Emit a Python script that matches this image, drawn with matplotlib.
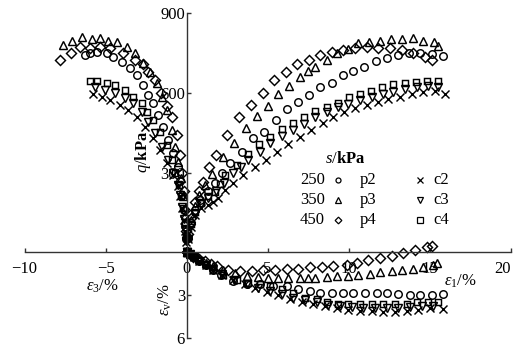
import matplotlib
matplotlib.use("Agg")
import matplotlib.pyplot as plt

plt.rcParams["font.family"] = ["Liberation Serif", "DejaVu Serif"]
plt.rcParams["mathtext.fontset"] = "custom"
plt.rcParams["mathtext.rm"] = "Liberation Serif"
plt.rcParams["mathtext.it"] = "Liberation Serif:italic"
plt.rcParams["mathtext.bf"] = "Liberation Serif:bold"

# ---------------- data ----------------
# q (kPa) against axial strain eps1 (%)
p2_e1 = [0, 0.1, 0.25, 0.5, 0.85, 1.3, 1.75, 2.2, 2.69, 3.41, 4.12, 4.8, 5.51, 6.19, 6.86, 7.56,
         8.24, 8.96, 9.64, 10.3, 10.98, 11.7, 12.36, 13.07, 13.75, 14.41, 15.13, 15.85]
p2_q1 = [0, 55, 110, 160, 195, 230, 262, 298, 335, 378, 429, 451, 498, 538, 566, 592,
         620, 638, 667, 683, 698, 721, 730, 742, 748, 751, 746, 738]
p3_e1 = [0, 0.1, 0.25, 0.5, 0.8, 1.15, 1.59, 2.27, 2.95, 3.65, 4.33, 5.01, 5.67, 6.33, 7.0, 7.47,
         7.93, 8.65, 9.27, 9.99, 10.6, 11.28, 11.94, 12.62, 13.28, 13.96, 14.62, 15.28, 15.54]
p3_q1 = [0, 65, 120, 175, 215, 255, 294, 360, 410, 466, 514, 551, 595, 625, 658, 680,
         698, 723, 751, 763, 786, 792, 796, 801, 801, 805, 796, 792, 776]
p4_e1 = [0, 0.1, 0.25, 0.5, 0.75, 1.04, 1.4, 1.82, 2.52, 3.26, 3.98, 4.70, 5.42, 6.14, 6.84, 7.56,
         8.24, 8.96, 9.68, 10.4, 11.12, 11.84, 12.56, 13.28, 14.0, 14.72, 15.13]
p4_q1 = [0, 70, 130, 190, 230, 266, 320, 366, 441, 508, 553, 598, 648, 679, 708, 723,
         742, 754, 761, 767, 773, 767, 767, 761, 751, 736, 723]
c2_e1 = [0, 0.1, 0.25, 0.5, 0.9, 1.3, 1.65, 1.96, 2.38, 2.9, 3.51, 4.23, 4.91, 5.6, 6.28, 7.0,
         7.67, 8.41, 9.06, 9.72, 10.4, 11.12, 11.8, 12.46, 13.18, 13.9, 14.62, 15.34, 15.96]
c2_q1 = [0, 50, 95, 140, 165, 178, 190, 205, 234, 262, 291, 322, 347, 378, 407, 435,
         460, 485, 510, 529, 541, 554, 566, 577, 585, 595, 604, 608, 595]
c3_e1 = [0, 0.1, 0.25, 0.5, 0.9, 1.35, 1.8, 2.3, 2.89, 3.35, 3.81, 4.54, 5.15, 5.88, 6.59, 7.25,
         7.93, 8.65, 9.37, 9.99, 10.71, 11.43, 12.15, 12.77, 13.49, 14.21, 14.93, 15.54]
c3_q1 = [0, 50, 100, 145, 180, 205, 230, 262, 297, 322, 347, 378, 410, 437, 460, 483,
         508, 529, 545, 558, 573, 585, 595, 604, 613, 623, 625, 620]
c4_e1 = [0, 0.1, 0.25, 0.5, 0.9, 1.35, 1.76, 2.07, 2.38, 3.1, 3.81, 4.49, 5.15, 5.88, 6.56, 7.25,
         7.93, 8.65, 9.33, 10.03, 10.71, 11.39, 12.09, 12.77, 13.49, 14.17, 14.86, 15.54]
c4_q1 = [0, 55, 105, 150, 185, 210, 228, 258, 290, 328, 370, 407, 435, 462, 487, 510,
         532, 545, 560, 583, 595, 608, 620, 633, 638, 642, 645, 645]

# q (kPa) against radial strain eps3 (%)
p2_e3 = [-6.27, -5.96, -5.54, -4.93, -4.52, -4.0, -3.49, -3.07, -2.67, -2.36, -2.05, -1.74,
         -1.43, -1.12, -0.81, -0.55, -0.38, -0.25, -0.15, -0.08, -0.03, 0]
p2_q3 = [742, 748, 754, 748, 736, 717, 692, 667, 629, 592, 560, 516,
         472, 422, 372, 320, 270, 215, 160, 105, 50, 0]
p3_e3 = [-7.6, -7.09, -6.47, -5.85, -5.34, -4.83, -4.31, -3.69, -3.18, -2.67, -2.25, -1.84,
         -1.5, -1.22, -0.91, -0.71, -0.5, -0.35, -0.22, -0.12, -0.05, 0]
p3_q3 = [780, 796, 808, 801, 805, 796, 792, 773, 748, 711, 679, 636,
         585, 535, 460, 397, 340, 280, 210, 140, 70, 0]
p4_e3 = [-7.81, -7.15, -6.57, -5.96, -5.34, -4.72, -3.9, -3.18, -2.67, -2.36, -1.94, -1.58,
         -1.22, -0.91, -0.6, -0.4, -0.28, -0.18, -0.1, -0.04, 0]
p4_q3 = [723, 748, 773, 770, 773, 767, 751, 723, 708, 679, 648, 600,
         550, 508, 441, 366, 300, 230, 160, 80, 0]
c2_e3 = [-5.75, -5.24, -4.72, -4.1, -3.59, -3.07, -2.56, -2.05, -1.64, -1.22, -0.81, -0.55,
         -0.38, -0.25, -0.15, -0.08, -0.03, 0]
c2_q3 = [595, 585, 573, 554, 535, 510, 472, 429, 385, 335, 291, 250,
         210, 165, 120, 80, 40, 0]
c3_e3 = [-5.65, -5.03, -4.41, -3.8, -3.28, -2.77, -2.36, -1.94, -1.53, -1.12, -0.81, -0.55,
         -0.38, -0.25, -0.15, -0.08, -0.03, 0]
c3_q3 = [623, 610, 598, 579, 560, 529, 491, 447, 397, 347, 297, 255,
         215, 170, 125, 85, 42, 0]
c4_e3 = [-5.96, -5.54, -4.93, -4.41, -3.8, -3.28, -2.77, -2.46, -2.05, -1.64, -1.22, -0.91,
         -0.71, -0.48, -0.32, -0.2, -0.11, -0.04, 0]
c4_q3 = [645, 645, 638, 629, 610, 585, 560, 529, 498, 454, 404, 347,
         297, 255, 210, 165, 115, 60, 0]

# volumetric strain epsv (%, compression positive) against eps1 (%)
p2_ev_e1 = [0, 0.2, 0.45, 0.8, 1.2, 1.65, 2.1, 2.89, 3.72, 4.54, 5.36, 6.19, 6.9, 7.62, 8.24,
            8.96, 9.68, 10.3, 11.02, 11.74, 12.36, 13.07, 13.8, 14.41, 15.13, 15.85]
p2_ev = [0, 0.15, 0.32, 0.6, 0.9, 1.25, 1.6, 2.01, 2.24, 2.24, 2.35, 2.35, 2.58, 2.7, 2.81,
         2.86, 2.86, 2.86, 2.86, 2.86, 2.86, 2.92, 2.99, 2.99, 2.99, 2.92]
p3_ev_e1 = [0, 0.2, 0.45, 0.8, 1.2, 1.65, 2.27, 3.0, 3.72, 4.43, 5.05, 5.67, 6.28, 7.0, 7.47,
            7.93, 8.65, 9.27, 9.99, 10.6, 11.33, 11.94, 12.67, 13.28, 14.0, 14.62, 15.23, 15.44]
p3_ev = [0, 0.12, 0.28, 0.5, 0.75, 0.98, 1.21, 1.44, 1.62, 1.71, 1.78, 1.78, 1.78, 1.78, 1.78,
         1.78, 1.71, 1.67, 1.62, 1.55, 1.49, 1.40, 1.33, 1.26, 1.17, 1.03, 0.87, 0.71]
p4_ev_e1 = [0, 0.2, 0.42, 0.75, 1.14, 1.5, 1.86, 2.58, 3.3, 4.02, 4.74, 5.46, 6.19, 6.9, 7.62,
            8.35, 9.06, 9.89, 10.5, 11.22, 11.94, 12.67, 13.38, 14.1, 14.83, 15.13]
p4_ev = [0, 0.15, 0.35, 0.5, 0.64, 0.8, 0.98, 1.21, 1.33, 1.33, 1.21, 1.21, 1.17, 1.17, 1.05,
         1.05, 0.94, 0.87, 0.76, 0.53, 0.41, 0.25, 0.07, -0.16, -0.34, -0.43]
c2_ev_e1 = [0, 0.2, 0.45, 0.8, 1.2, 1.65, 2.2, 2.89, 3.61, 4.23, 4.95, 5.67, 6.39, 7.11, 7.83,
            8.55, 9.27, 9.99, 10.71, 11.43, 12.15, 12.87, 13.59, 14.31, 15.03, 15.85]
c2_ev = [0, 0.15, 0.33, 0.6, 0.9, 1.2, 1.55, 1.90, 2.24, 2.47, 2.77, 2.99, 3.27, 3.45, 3.61,
         3.77, 3.90, 4.0, 4.07, 4.07, 4.14, 4.14, 4.07, 4.0, 3.90, 3.95]
c3_ev_e1 = [0, 0.2, 0.45, 0.8, 1.2, 1.65, 2.2, 2.95, 3.72, 4.43, 5.15, 5.88, 6.59, 7.31, 8.04,
            8.75, 9.47, 10.2, 10.91, 11.64, 12.36, 13.07, 13.8, 14.52, 15.23]
c3_ev = [0, 0.14, 0.32, 0.58, 0.88, 1.15, 1.5, 1.9, 2.24, 2.47, 2.70, 2.92, 3.15, 3.31, 3.49,
         3.68, 3.77, 3.84, 3.90, 3.90, 3.90, 3.90, 3.84, 3.77, 3.73]
c4_ev_e1 = [0, 0.2, 0.45, 0.8, 1.2, 1.65, 2.27, 3.1, 3.81, 4.54, 5.15, 5.88, 6.59, 7.31, 8.04,
            8.65, 9.37, 9.99, 10.71, 11.43, 12.15, 12.87, 13.59, 14.21, 14.93, 15.54]
c4_ev = [0, 0.15, 0.33, 0.6, 0.9, 1.2, 1.55, 1.90, 2.12, 2.24, 2.35, 2.58, 2.81, 3.15, 3.27,
         3.45, 3.61, 3.61, 3.61, 3.61, 3.61, 3.61, 3.61, 3.49, 3.45, 3.45]

suction_kpa = ["250", "350", "450"]
p_labels = ["p2", "p3", "p4"]
c_labels = ["c2", "c3", "c4"]
x_ticks = [-10, -5, 0, 5, 10, 15, 20]
x_ticklabels = ["\u221210", "\u22125", "0", "5", "10", "15", "20"]
q_ticks = [300, 600, 900]
ev_ticks = [3, 6]

# ---------------- figure ----------------
W, H = 514, 347
fig = plt.figure(figsize=(W / 100, H / 100), dpi=100)

EV_SCALE = 54.0  # kPa-equivalent per 1 % of volumetric strain on the lower half
Q_PX = 0.2659    # pixels per kPa on the vertical axis
top_px = 13.0
bottom_px = top_px + (900 + 6 * EV_SCALE) * Q_PX
ax = fig.add_axes([24.5 / W, (H - bottom_px) / H, 486 / W, (bottom_px - top_px) / H])
ax.set_xlim(-10, 20)
ax.set_ylim(-6 * EV_SCALE, 900)

styles = {
    "p2": dict(marker="o", ms=5.4),
    "p3": dict(marker="^", ms=6.2),
    "p4": dict(marker="D", ms=4.8),
    "c2": dict(marker="x", ms=5.8),
    "c3": dict(marker="v", ms=6.2),
    "c4": dict(marker="s", ms=5.0),
}

series = {
    "p2": (p2_e1, p2_q1, p2_e3, p2_q3, p2_ev_e1, p2_ev),
    "p3": (p3_e1, p3_q1, p3_e3, p3_q3, p3_ev_e1, p3_ev),
    "p4": (p4_e1, p4_q1, p4_e3, p4_q3, p4_ev_e1, p4_ev),
    "c2": (c2_e1, c2_q1, c2_e3, c2_q3, c2_ev_e1, c2_ev),
    "c3": (c3_e1, c3_q1, c3_e3, c3_q3, c3_ev_e1, c3_ev),
    "c4": (c4_e1, c4_q1, c4_e3, c4_q3, c4_ev_e1, c4_ev),
}

for name, (e1, q1, e3, q3, ev_e1, ev) in series.items():
    st = styles[name]
    kw = dict(linestyle="none", marker=st["marker"], markersize=st["ms"],
              markerfacecolor="none", markeredgecolor="black", markeredgewidth=1.05,
              clip_on=False)
    ax.plot(e1, q1, **kw)
    ax.plot(e3, q3, **kw)
    ax.plot(ev_e1, [-v * EV_SCALE for v in ev], **kw)

# axes through the origin
for side in ("top", "right"):
    ax.spines[side].set_visible(False)
ax.spines["left"].set_position(("data", 0))
ax.spines["bottom"].set_position(("data", 0))
for side in ("left", "bottom"):
    ax.spines[side].set_color("#333333")
    ax.spines[side].set_linewidth(1.0)

ax.set_xticks(x_ticks)
ax.set_xticklabels(x_ticklabels)
ax.set_yticks(q_ticks + [-v * EV_SCALE for v in ev_ticks])
ax.set_yticklabels([str(v) for v in q_ticks] + [str(v) for v in ev_ticks])
ax.tick_params(axis="x", direction="in", length=3, width=1, color="#333333",
               pad=6, labelsize=12)
ax.tick_params(axis="y", direction="in", length=3, width=1, color="#333333",
               pad=1, labelsize=12)
ax.get_xticklabels()[-1].set_horizontalalignment("right")
ax.patch.set_alpha(0)


def fx(x):
    return x / W


def fy(y):
    return 1 - y / H


# axis titles
fig.text(fx(143), fy(152), r"$\mathit{q}$/$\mathbf{kPa}$", rotation=90,
         ha="center", va="center", fontsize=12)
fig.text(fx(102), fy(286), r"$\mathit{\varepsilon}_{3}$/%", ha="center", va="center",
         fontsize=12)
fig.text(fx(460), fy(281), r"$\mathit{\varepsilon}_{1}$/%", ha="center", va="center",
         fontsize=12)
fig.text(fx(165), fy(300), r"$\mathit{\varepsilon}_{\mathrm{v}}$/%", rotation=90,
         ha="center", va="center", fontsize=12)

# legend block
fig.text(fx(345), fy(159), r"$\mathit{s}$/$\mathbf{kPa}$", ha="center", va="center",
         fontsize=12)
leg_ms = {"p2": 3.6, "p3": 4.4, "p4": 3.4, "c2": 4.0, "c3": 4.4, "c4": 3.8}
for i in range(3):
    yy = 180 + 20 * i
    fig.text(fx(300), fy(yy), suction_kpa[i], ha="left", va="center", fontsize=12)
    pn, cn = p_labels[i], c_labels[i]
    fig.add_artist(plt.Line2D([fx(338)], [fy(yy)], transform=fig.transFigure,
                              linestyle="none", marker=styles[pn]["marker"],
                              markersize=leg_ms[pn], markerfacecolor="none",
                              markeredgecolor="black", markeredgewidth=0.9))
    fig.text(fx(360), fy(yy), pn, ha="left", va="center", fontsize=12)
    fig.add_artist(plt.Line2D([fx(420)], [fy(yy)], transform=fig.transFigure,
                              linestyle="none", marker=styles[cn]["marker"],
                              markersize=leg_ms[cn], markerfacecolor="none",
                              markeredgecolor="black", markeredgewidth=0.9))
    fig.text(fx(433), fy(yy), cn, ha="left", va="center", fontsize=12)

fig.savefig("out.png", dpi=100, facecolor="white")
